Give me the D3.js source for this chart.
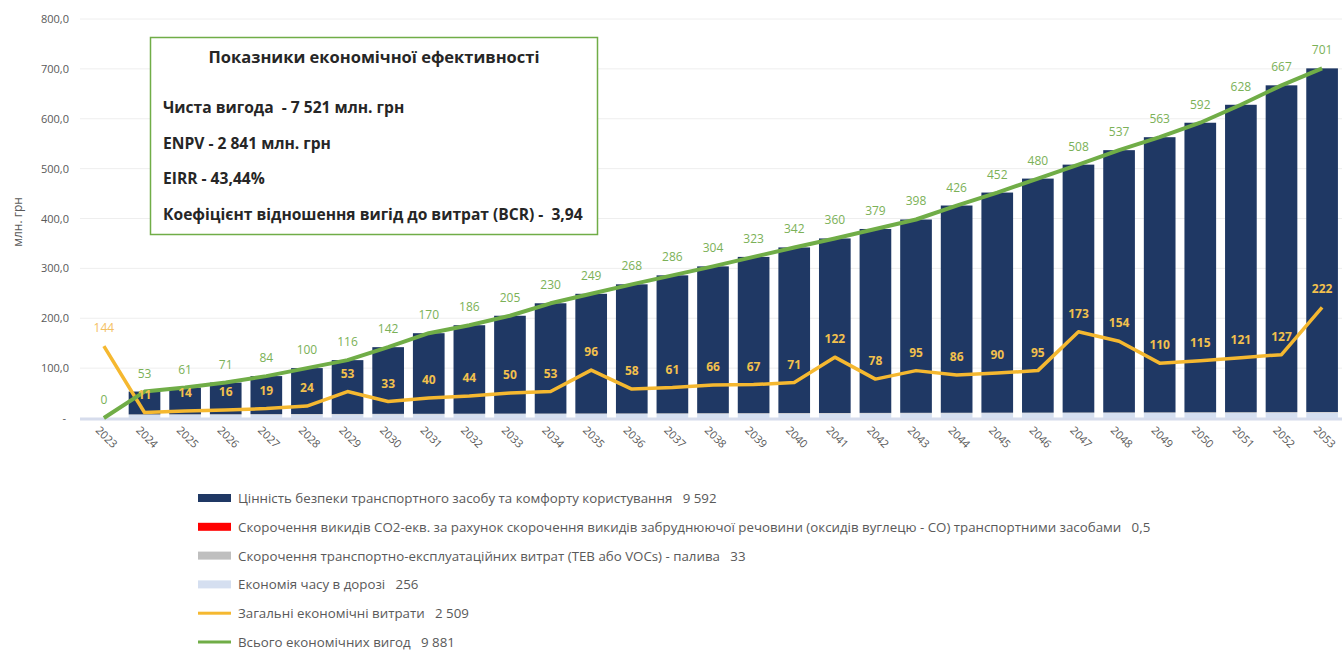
<!DOCTYPE html>
<html>
<head>
<meta charset="utf-8">
<script src="https://cdn.jsdelivr.net/npm/d3@7"></script>
<style>
  body { margin: 0; background: #fff; }
  svg text { font-family: "Open Sans", "Noto Sans", sans-serif; white-space: pre; }
</style>
</head>
<body>
<div id="chart"></div>
<script>
// Years on the x axis
const years = ["2023","2024","2025","2026","2027","2028","2029","2030","2031","2032","2033","2034","2035","2036","2037","2038","2039","2040","2041","2042","2043","2044","2045","2046","2047","2048","2049","2050","2051","2052","2053"];

// Stacked benefit components, млн. грн
const safetyValue = [0,45.7,53.5,63.4,76.2,92.0,107.9,133.7,161.6,177.4,196.2,221.1,239.9,258.8,276.6,294.4,313.3,332.1,350.0,368.8,387.6,415.5,441.3,469.2,497.0,525.8,551.7,580.5,616.4,655.2,689.0];
const co2Reduction = [0,0.02,0.02,0.02,0.02,0.02,0.02,0.02,0.02,0.02,0.02,0.02,0.02,0.02,0.02,0.02,0.02,0.02,0.02,0.02,0.02,0.02,0.02,0.02,0.02,0.02,0.02,0.02,0.02,0.02,0.02];
const fuelSaving = [0,1.1,1.1,1.1,1.1,1.1,1.1,1.1,1.1,1.1,1.1,1.1,1.1,1.1,1.1,1.1,1.1,1.1,1.1,1.1,1.1,1.1,1.1,1.1,1.1,1.1,1.1,1.1,1.1,1.1,1.1];
const timeSaving = [0,6.2,6.4,6.5,6.7,6.9,7.0,7.2,7.3,7.5,7.7,7.8,8.0,8.1,8.3,8.5,8.6,8.8,8.9,9.1,9.3,9.4,9.6,9.7,9.9,10.1,10.2,10.4,10.5,10.7,10.9];

// Lines
const totalCosts = [144,11,14,16,19,24,53,33,40,44,50,53,96,58,61,66,67,71,122,78,95,86,90,95,173,154,110,115,121,127,222];
const totalBenefits = [0,53,61,71,84,100,116,142,170,186,205,230,249,268,286,304,323,342,360,379,398,426,452,480,508,537,563,592,628,667,701];

const yTicks = [0,100,200,300,400,500,600,700,800];

const legendItems = [
  { label: "Цінність безпеки транспортного засобу та комфорту користування   9 592", color: "#1f3864", type: "bar" },
  { label: "Скорочення викидів CO2-екв. за рахунок скорочення викидів забруднюючої речовини (оксидів вуглецю - CO) транспортними засобами   0,5", color: "#ff0000", type: "bar" },
  { label: "Скорочення транспортно-експлуатаційних витрат (ТЕВ або VOCs) - палива   33", color: "#bfbfbf", type: "bar" },
  { label: "Економія часу в дорозі   256", color: "#d5dff0", type: "bar" },
  { label: "Загальні економічні витрати   2 509", color: "#f5b830", type: "line" },
  { label: "Всього економічних вигод   9 881", color: "#70ad47", type: "line" }
];

const infoTitle = "Показники економічної ефективності";
const infoLines = [
  "Чиста вигода  - 7 521 млн. грн",
  "ENPV - 2 841 млн. грн",
  "EIRR - 43,44%",
  "Коефіцієнт відношення вигід до витрат (BCR) -  3,94"
];

const width = 1342, height = 650;
const svg = d3.select("#chart").append("svg")
  .attr("width", width)
  .attr("height", height);

const x = d3.scaleBand()
  .domain(years)
  .range([84, 1342])
  .paddingInner(0.22)
  .paddingOuter(0.1);

const y = d3.scaleLinear()
  .domain([0, 800])
  .range([418, 19]);

// gridlines
svg.append("g")
  .selectAll("line")
  .data(yTicks.filter(d => d > 0))
  .join("line")
  .attr("x1", 80)
  .attr("x2", 1342)
  .attr("y1", d => y(d))
  .attr("y2", d => y(d))
  .attr("stroke", "#eeeeee")
  .attr("stroke-width", 1);

// y tick labels
svg.append("g")
  .selectAll("text")
  .data(yTicks)
  .join("text")
  .attr("x", d => d === 0 ? 66 : 69)
  .attr("y", d => y(d) + 4)
  .attr("text-anchor", "end")
  .attr("font-size", 11)
  .attr("fill", "#595959")
  .text(d => d === 0 ? "-" : d3.format(".1f")(d).replace(".", ","));

svg.append("text")
  .attr("transform", "translate(22,222) rotate(-90)")
  .attr("text-anchor", "middle")
  .attr("font-size", 12)
  .attr("fill", "#595959")
  .text("млн. грн");

// x axis line
svg.append("line")
  .attr("x1", 80)
  .attr("x2", 1342)
  .attr("y1", y(0) + 1)
  .attr("y2", y(0) + 1)
  .attr("stroke", "#d6dcec")
  .attr("stroke-width", 3);

// stacked bars (time saving sits at the bottom)
const rows = years.map((yr, i) => ({
  year: yr,
  safety: safetyValue[i],
  co2: co2Reduction[i],
  fuel: fuelSaving[i],
  time: timeSaving[i]
}));
const keys = ["time", "fuel", "co2", "safety"];
const stackColors = { safety: "#1f3864", co2: "#ff0000", fuel: "#bfbfbf", time: "#d5dff0" };
const series = d3.stack().keys(keys)(rows);

svg.append("g")
  .selectAll("g")
  .data(series)
  .join("g")
  .attr("fill", s => stackColors[s.key])
  .selectAll("rect")
  .data(s => s)
  .join("rect")
  .attr("x", d => x(d.data.year))
  .attr("width", x.bandwidth())
  .attr("y", d => y(d[1]))
  .attr("height", d => Math.max(0, y(d[0]) - y(d[1])));

// x labels
svg.append("g")
  .selectAll("text")
  .data(years)
  .join("text")
  .attr("transform", d => `translate(${x(d) + x.bandwidth() / 2 - 9},${431}) rotate(45)`)
  .attr("font-size", 11)
  .attr("fill", "#595959")
  .text(d => d);

const cx = d => x(d) + x.bandwidth() / 2;

// cost line
svg.append("path")
  .datum(totalCosts)
  .attr("fill", "none")
  .attr("stroke", "#f5b830")
  .attr("stroke-width", 3.5)
  .attr("stroke-linejoin", "round")
  .attr("d", d3.line().x((d, i) => cx(years[i])).y(d => y(d)));

// benefits line
svg.append("path")
  .datum(totalBenefits)
  .attr("fill", "none")
  .attr("stroke", "#70ad47")
  .attr("stroke-width", 4)
  .attr("stroke-linejoin", "round")
  .attr("d", d3.line().x((d, i) => cx(years[i])).y(d => y(d)));

// cost labels
svg.append("g")
  .selectAll("text")
  .data(totalCosts)
  .join("text")
  .attr("x", (d, i) => cx(years[i]))
  .attr("y", d => y(d) - 14)
  .attr("text-anchor", "middle")
  .attr("font-size", 12)
  .attr("font-weight", (d, i) => i === 0 ? "normal" : "bold")
  .attr("fill", (d, i) => i === 0 ? "#f4c062" : "#f2c04d")
  .text(d => d);

// benefit labels
svg.append("g")
  .selectAll("text")
  .data(totalBenefits)
  .join("text")
  .attr("x", (d, i) => cx(years[i]))
  .attr("y", d => y(d) - 14)
  .attr("text-anchor", "middle")
  .attr("font-size", 12)
  .attr("fill", "#7bb157")
  .text(d => d);

// info box
const box = svg.append("g");
box.append("rect")
  .attr("x", 150.5)
  .attr("y", 37.5)
  .attr("width", 447)
  .attr("height", 197)
  .attr("fill", "#fff")
  .attr("stroke", "#70ad47")
  .attr("stroke-width", 1.5);
box.append("text")
  .attr("x", 374)
  .attr("y", 63)
  .attr("text-anchor", "middle")
  .attr("font-size", 16.5)
  .attr("font-weight", "bold")
  .attr("fill", "#262626")
  .text(infoTitle);
box.selectAll("text.line")
  .data(infoLines)
  .join("text")
  .attr("class", "line")
  .attr("x", 163)
  .attr("y", (d, i) => 113 + i * 35.5)
  .attr("font-size", 15.6)
  .attr("font-weight", "bold")
  .attr("fill", "#262626")
  .text(d => d);

// legend
const legend = svg.append("g");
const lg = legend.selectAll("g")
  .data(legendItems)
  .join("g")
  .attr("transform", (d, i) => `translate(198,${498 + i * 28.8})`);
lg.append("rect")
  .attr("x", 0)
  .attr("y", d => d.type === "bar" ? -4 : -1.5)
  .attr("width", 33)
  .attr("height", d => d.type === "bar" ? 8 : 3)
  .attr("fill", d => d.color);
lg.append("text")
  .attr("x", 40)
  .attr("y", 5)
  .attr("font-size", 13.3)
  .attr("fill", "#595959")
  .text(d => d.label);
</script>
</body>
</html>
